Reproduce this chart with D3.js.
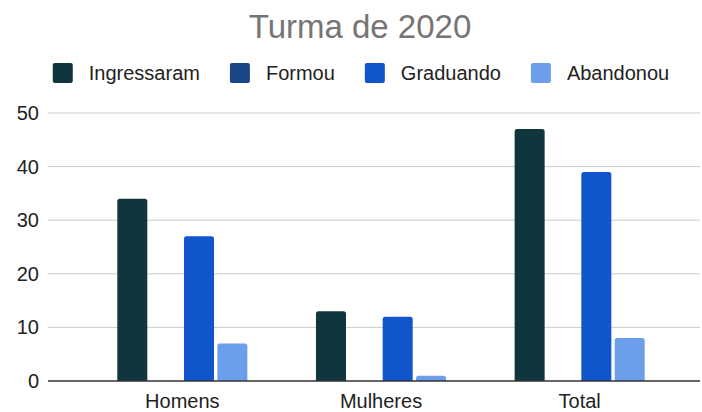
<!DOCTYPE html>
<html>
<head>
<meta charset="utf-8">
<script src="https://cdn.jsdelivr.net/npm/d3@7"></script>
<style>
  body { margin: 0; background: #fff; }
  text { font-family: Arial, "Liberation Sans", sans-serif; }
</style>
</head>
<body>
<svg id="chart"></svg>
<script>
var categories = ['Homens', 'Mulheres', 'Total'];
var series = ['Ingressaram', 'Formou', 'Graduando', 'Abandonou'];
var ingressaram = [34, 13, 47];
var formou = [0, 0, 0];
var graduando = [27, 12, 39];
var abandonou = [7, 1, 8];
var yticks = [0, 10, 20, 30, 40, 50];
var colors = ['#0f363d', '#1c4587', '#1155cc', '#6d9eeb'];

var values = [ingressaram, formou, graduando, abandonou];
var data = categories.map((c, i) => ({
    label: c,
    vals: series.map((s, j) => ({ key: s, value: values[j][i] }))
}));

var width = 702, height = 412;
var svg = d3.select('#chart').attr('width', width).attr('height', height);

var grid = { left: 48, right: 700 };
var xscale = d3.scaleBand().domain(categories).range([83, 679]);
var inner = d3.scaleBand().domain(series).range([-66.7, 66.7])
    .paddingInner(0.1).paddingOuter(0.05);
var yscale = d3.scaleLinear().domain([0, 50]).range([381, 113]);

// title
svg.append('text')
    .attr('x', 360).attr('y', 38)
    .attr('text-anchor', 'middle')
    .attr('font-size', 33)
    .attr('fill', '#757575')
    .text('Turma de 2020');

// legend
var legend = svg.append('g');
var lx = 0;
series.forEach((s, i) => {
    var g = legend.append('g').attr('transform', `translate(${lx},0)`);
    g.append('rect').attr('x', 0).attr('y', 63).attr('width', 20).attr('height', 20)
        .attr('rx', 2).attr('fill', colors[i]);
    var t = g.append('text').attr('x', 36).attr('y', 80)
        .attr('font-size', 20).attr('fill', '#222').text(s);
    lx += 36 + t.node().getComputedTextLength() + 30;
});
var lw = lx - 30;
legend.attr('transform', `translate(${361 - lw / 2},0)`);

// gridlines
svg.append('g').selectAll('line')
    .data(yticks.filter(d => d > 0))
    .join('line')
    .attr('x1', grid.left).attr('x2', grid.right)
    .attr('y1', d => yscale(d)).attr('y2', d => yscale(d))
    .attr('stroke', '#cccccc').attr('stroke-width', 1);

// y axis labels
var yaxis = d3.axisLeft(yscale).tickValues(yticks).tickSize(0).tickPadding(9);
svg.append('g')
    .attr('transform', `translate(${grid.left},0)`)
    .call(yaxis)
    .call(g => g.select('.domain').remove())
    .call(g => g.selectAll('text').attr('font-size', 20).attr('fill', '#222')
        .attr('font-family', 'Arial, "Liberation Sans", sans-serif'));

// bars
function topRounded(x, y, w, h, r) {
    if (h <= 0) return '';
    r = Math.min(r, h, w / 2);
    return `M${x},${y + h}V${y + r}Q${x},${y} ${x + r},${y}H${x + w - r}Q${x + w},${y} ${x + w},${y + r}V${y + h}Z`;
}
var groups = svg.append('g').selectAll('g')
    .data(data)
    .join('g')
    .attr('transform', d => `translate(${xscale(d.label) + xscale.bandwidth() / 2},0)`);
groups.selectAll('path')
    .data(d => d.vals)
    .join('path')
    .attr('d', d => topRounded(inner(d.key), yscale(d.value), inner.bandwidth(), yscale(0) - yscale(d.value), 2.5))
    .attr('fill', d => colors[series.indexOf(d.key)]);

// baseline
svg.append('line')
    .attr('x1', grid.left).attr('x2', grid.right)
    .attr('y1', yscale(0)).attr('y2', yscale(0))
    .attr('stroke', '#333').attr('stroke-width', 1.5);

// x axis labels
var xaxis = d3.axisBottom(xscale).tickSize(0).tickPadding(13);
svg.append('g')
    .attr('transform', `translate(0,${yscale(0)})`)
    .call(xaxis)
    .call(g => g.select('.domain').remove())
    .call(g => g.selectAll('text').attr('font-size', 20).attr('fill', '#222')
        .attr('font-family', 'Arial, "Liberation Sans", sans-serif'));
</script>
</body>
</html>
